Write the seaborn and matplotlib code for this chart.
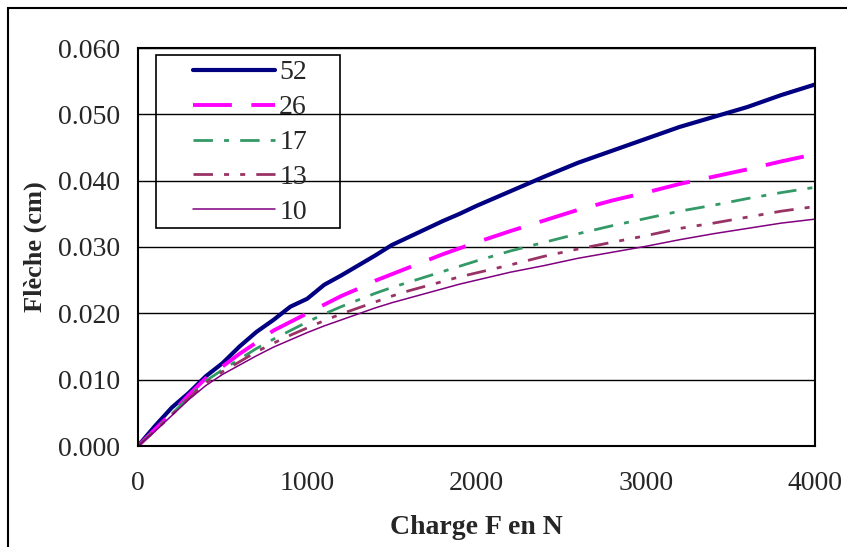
import numpy as np
import pandas as pd
import matplotlib
matplotlib.use('Agg')
import matplotlib.pyplot as plt
import seaborn as sns
from matplotlib.patches import Rectangle

# charge (N)
charge = [0, 100, 200, 300, 400, 500, 600, 700, 800, 900, 1000, 1100, 1200, 1300, 1400,
          1500, 1600, 1700, 1800, 1900, 2000, 2200, 2400, 2600, 2800, 3000, 3200, 3400,
          3600, 3800, 4000]

# flèche (cm) pour chaque série
f52 = [0, 0.0030, 0.0058, 0.0080, 0.0105, 0.0125, 0.0150, 0.0172, 0.0190, 0.0210, 0.0222,
       0.0243, 0.0257, 0.0272, 0.0287, 0.0303, 0.0315, 0.0327, 0.0339, 0.0350, 0.0362,
       0.0384, 0.0406, 0.0427, 0.0445, 0.0463, 0.0481, 0.0496, 0.0511, 0.0529, 0.0545]
f26 = [0, 0.0025, 0.0050, 0.0077, 0.0102, 0.0120, 0.0139, 0.0156, 0.0174, 0.0187, 0.0200,
       0.0213, 0.0226, 0.0237, 0.0249, 0.0259, 0.0269, 0.0279, 0.0289, 0.0298, 0.0307,
       0.0324, 0.0340, 0.0356, 0.0370, 0.0382, 0.0395, 0.0406, 0.0417, 0.0429, 0.0440]
f17 = [0, 0.0024, 0.0048, 0.0074, 0.0098, 0.0115, 0.0131, 0.0147, 0.0161, 0.0174, 0.0187,
       0.0199, 0.0210, 0.0220, 0.0230, 0.0239, 0.0247, 0.0255, 0.0263, 0.0271, 0.0279,
       0.0294, 0.0307, 0.0320, 0.0332, 0.0343, 0.0354, 0.0363, 0.0373, 0.0382, 0.0390]
f13 = [0, 0.0023, 0.0047, 0.0072, 0.0095, 0.0112, 0.0127, 0.0142, 0.0155, 0.0167, 0.0178,
       0.0189, 0.0199, 0.0208, 0.0217, 0.0226, 0.0234, 0.0241, 0.0248, 0.0255, 0.0261,
       0.0273, 0.0286, 0.0297, 0.0307, 0.0317, 0.0328, 0.0336, 0.0345, 0.0354, 0.0361]
f10 = [0, 0.0022, 0.0046, 0.0070, 0.0091, 0.0108, 0.0122, 0.0136, 0.0149, 0.0160, 0.0171,
       0.0181, 0.0190, 0.0199, 0.0208, 0.0216, 0.0223, 0.0230, 0.0237, 0.0244, 0.0250,
       0.0262, 0.0272, 0.0283, 0.0292, 0.0301, 0.0311, 0.0320, 0.0328, 0.0336, 0.0342]

series = ['52', '26', '17', '13', '10']
values = [f52, f26, f17, f13, f10]

sns.set_style('white')
plt.rcParams['font.family'] = ['Liberation Serif', 'DejaVu Serif']

# styles façon Excel
styles = {
    '52': dict(color='#000080', lw=3.0, ls='-'),
    '26': dict(color='#FF00FF', lw=2.8, ls=(0, (10, 5))),
    '17': dict(color='#339966', lw=2.0, ls=(0, (7, 4, 1.8, 4))),
    '13': dict(color='#993366', lw=2.0, ls=(0, (7, 4, 1.8, 4, 1.8, 4))),
    '10': dict(color='#800080', lw=1.1, ls='-'),
}

fig = plt.figure(figsize=(8.47, 5.47), dpi=100)
ax = fig.add_axes([138 / 847, 101 / 547, 677 / 847, 398 / 547])

for name, vals in zip(series, values):
    st = styles[name]
    sns.lineplot(x=charge, y=vals, ax=ax, color=st['color'], linewidth=st['lw'],
                 linestyle=st['ls'], label=name)

ax.set_xlim(0, 4000)
ax.set_ylim(0, 0.060)
ax.set_xticks([0, 1000, 2000, 3000, 4000])
ax.set_yticks(np.arange(0, 0.0601, 0.010))
ax.set_yticklabels(['%.3f' % v for v in np.arange(0, 0.0601, 0.010)])
ax.yaxis.grid(True, color='black', linewidth=1.0)
ax.set_axisbelow(True)
for sp in ax.spines.values():
    sp.set_color('black')
    sp.set_linewidth(1.5)
ax.tick_params(axis='both', direction='out', length=5, width=1, color='black',
               labelsize=20, pad=8)
ax.tick_params(axis='x', pad=13)

ax.set_xlabel('Charge F en N', fontsize=20, fontweight='bold', labelpad=14)
ax.set_ylabel('Flèche (cm)', fontsize=19, fontweight='bold', labelpad=8)

leg = ax.legend(loc='upper left', bbox_to_anchor=(193 / 847, 487 / 547),
                bbox_transform=fig.transFigure, frameon=False, fontsize=20,
                handlelength=2.95, labelspacing=0.34, borderaxespad=0,
                borderpad=0, handletextpad=0.15)

# cadre de la légende
fig.patches.append(Rectangle((156 / 847, 319 / 547), 184 / 847, 173 / 547,
                             transform=fig.transFigure, facecolor='white',
                             edgecolor='black', linewidth=1.2, zorder=0.5))
ax.set_zorder(1)
ax.patch.set_alpha(0)

# cadre extérieur du graphique
fig.patches.append(Rectangle((8 / 847, -0.1), 1.2, (539 / 547) + 0.1,
                             transform=fig.transFigure, fill=False,
                             edgecolor='black', linewidth=1.5))

fig.savefig('out.png', dpi=100)
